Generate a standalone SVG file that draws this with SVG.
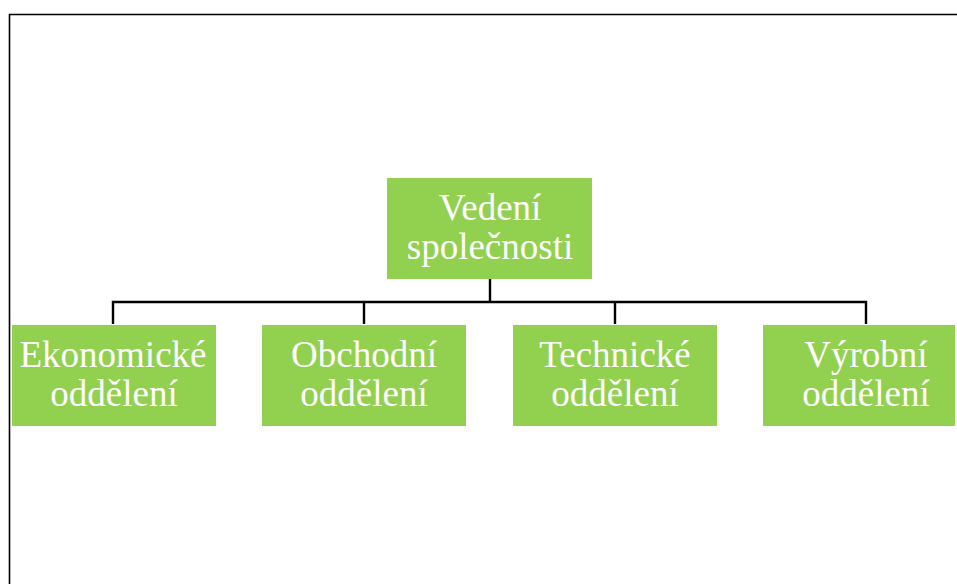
<svg xmlns="http://www.w3.org/2000/svg" width="957" height="584" viewBox="0 0 957 584">
<style>
.box{fill:#92D050;}
.t{font-family:"Liberation Serif","Times New Roman",serif;font-size:37px;fill:#ffffff;text-anchor:middle;}
.c{fill:none;stroke:#000;stroke-width:2.4;}
</style>
<rect width="957" height="584" fill="#fff"/>
<path d="M9.5,584 V14.5 H957" fill="none" stroke="#000" stroke-width="1.6"/>
<g id="connectors">
<path class="c" d="M490,279 V302 M113,324 V302 H866 V324 M364,302 V324 M615,302 V324"/>
</g>
<g id="vedeni">
<rect class="box" x="387" y="178" width="205" height="101"/>
<text class="t" x="490" y="220">Vedení</text>
<text class="t" x="490" y="259">společnosti</text>
</g>
<g id="ekonomicke">
<rect class="box" x="12" y="325" width="204" height="101"/>
<text class="t" x="113" y="367">Ekonomické</text>
<text class="t" x="114" y="406">oddělení</text>
</g>
<g id="obchodni">
<rect class="box" x="262" y="325" width="204" height="101"/>
<text class="t" x="364" y="367">Obchodní</text>
<text class="t" x="364" y="406">oddělení</text>
</g>
<g id="technicke">
<rect class="box" x="513" y="325" width="204" height="101"/>
<text class="t" x="615" y="367">Technické</text>
<text class="t" x="615" y="406">oddělení</text>
</g>
<g id="vyrobni">
<rect class="box" x="763" y="325" width="192" height="101"/>
<text class="t" x="866" y="367">Výrobní</text>
<text class="t" x="866" y="406">oddělení</text>
</g>
</svg>
